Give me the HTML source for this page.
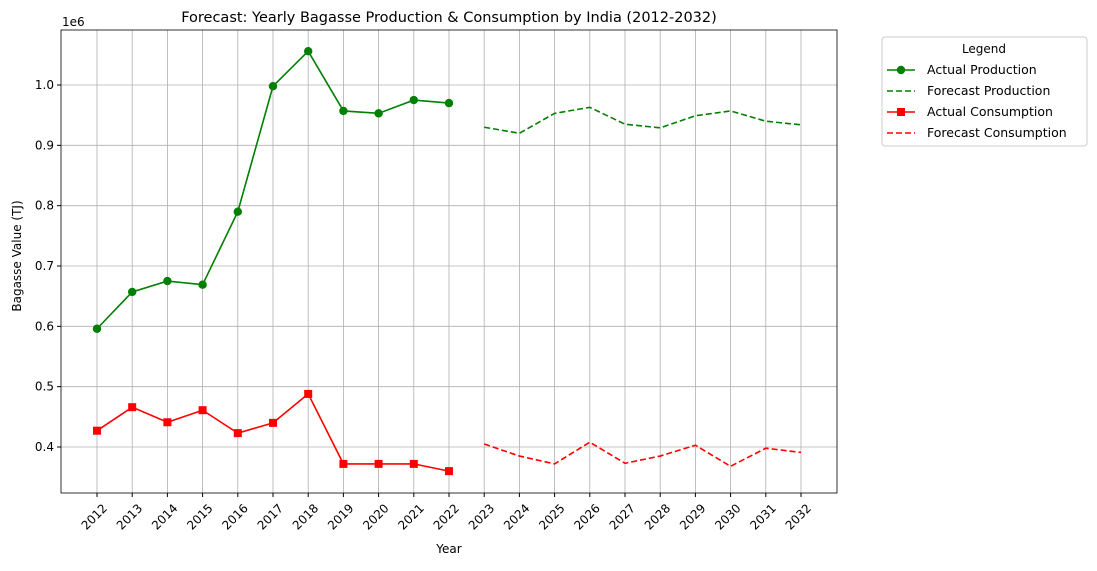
<!DOCTYPE html>
<html><head><meta charset="utf-8"><style>
body{margin:0;background:#fff;font-family:"Liberation Sans","DejaVu Sans",sans-serif;}
svg text{font-family:"DejaVu Sans","Liberation Sans",sans-serif;}
</style></head><body>
<svg id="chart" width="1097" height="566" xmlns="http://www.w3.org/2000/svg"></svg>
<script>
const years=[2012,2013,2014,2015,2016,2017,2018,2019,2020,2021,2022,2023,2024,2025,2026,2027,2028,2029,2030,2031,2032];
const actualYears=[2012,2013,2014,2015,2016,2017,2018,2019,2020,2021,2022];
const forecastYears=[2023,2024,2025,2026,2027,2028,2029,2030,2031,2032];
const actualProduction=[0.596,0.657,0.675,0.669,0.790,0.998,1.056,0.957,0.953,0.975,0.970];
const forecastProduction=[0.930,0.920,0.953,0.963,0.935,0.929,0.949,0.957,0.940,0.934];
const actualConsumption=[0.427,0.466,0.441,0.461,0.423,0.440,0.488,0.372,0.372,0.372,0.360];
const forecastConsumption=[0.405,0.385,0.372,0.408,0.373,0.385,0.403,0.368,0.398,0.391];
const yTicks=[0.4,0.5,0.6,0.7,0.8,0.9,1.0];

const svg=document.getElementById('chart');
const NS='http://www.w3.org/2000/svg';
const L=61,R=837,T=30,B=493;
const x=y=>97+(y-2012)*(801-97)/20;
const yv=v=>447-(v-0.4)*603.33;
function mk(tag,attrs,parent){const e=document.createElementNS(NS,tag);for(const k in attrs)e.setAttribute(k,attrs[k]);(parent||svg).appendChild(e);return e;}
function txt(s,attrs){const e=mk('text',attrs);e.textContent=s;return e;}

years.forEach(yr=>{const g=mk('line',{x1:x(yr),x2:x(yr),y1:T,y2:B,stroke:'#b0b0b0','stroke-width':0.8});

});
yTicks.forEach(v=>{const g=mk('line',{x1:L,x2:R,y1:yv(v),y2:yv(v),stroke:'#b0b0b0','stroke-width':0.8});

});
const fr=mk('rect',{x:L,y:T,width:R-L,height:B-T,fill:'none',stroke:'#000','stroke-width':0.8});


years.forEach(yr=>{mk('line',{x1:x(yr),x2:x(yr),y1:B,y2:B+4,stroke:'#000'});
const t=txt(String(yr),{x:0,y:0,'font-size':12,'text-anchor':'end',transform:`translate(${x(yr)+5},${B+10}) rotate(-45)`,dy:'0.7em'});

});
yTicks.forEach(v=>{mk('line',{x1:L-4,x2:L,y1:yv(v),y2:yv(v),stroke:'#000'});
const t=txt(v.toFixed(1),{x:L-7,y:yv(v)+4,'font-size':12,'text-anchor':'end'});

});
const off=txt('1e6',{x:62,y:26,'font-size':12});


const xt=txt('Year',{x:449,y:553,'font-size':12,'text-anchor':'middle'});


const yt=txt('Bagasse Value (TJ)',{x:0,y:0,'font-size':12,'text-anchor':'middle',transform:'translate(21,256) rotate(-90)'});


const tt=txt('Forecast: Yearly Bagasse Production & Consumption by India (2012-2032)',{x:449,y:22,'font-size':14.5,'text-anchor':'middle'});



function series(xs,vs,color,dash,marker,name){
  const p=mk('polyline',{points:xs.map((yr,i)=>x(yr)+','+yv(vs[i])).join(' '),fill:'none',stroke:color,'stroke-width':1.6,'stroke-dasharray':dash||'none'});
  
  
  xs.forEach((yr,i)=>{
    let m;
    if(marker==='o')m=mk('circle',{cx:x(yr),cy:yv(vs[i]),r:4.2,fill:color});
    else if(marker==='s')m=mk('rect',{x:x(yr)-4,y:yv(vs[i])-4,width:8,height:8,fill:color});
    else return;
    
    
  });
}
series(actualYears,actualProduction,'#008000',null,'o','actual-production');
series(forecastYears,forecastProduction,'#008000','6,3',null,'forecast-production');
series(actualYears,actualConsumption,'#ff0000',null,'s','actual-consumption');
series(forecastYears,forecastConsumption,'#ff0000','6,3',null,'forecast-consumption');

const lg=mk('g',{});


mk('rect',{x:882,y:37,width:205,height:109,rx:3,fill:'#fff',stroke:'#ccc'},lg);
const lt=txt('Legend',{x:984,y:53,'font-size':12,'text-anchor':'middle'});


const items=[['Actual Production','#008000',null,'o'],['Forecast Production','#008000','6,3',null],['Actual Consumption','#ff0000',null,'s'],['Forecast Consumption','#ff0000','6,3',null]];
items.forEach((it,i)=>{const yy=70+i*21;
mk('line',{x1:887,x2:915,y1:yy,y2:yy,stroke:it[1],'stroke-width':1.6,'stroke-dasharray':it[2]||'none'});
if(it[3]==='o')mk('circle',{cx:901,cy:yy,r:4.2,fill:it[1]});
if(it[3]==='s')mk('rect',{x:897,y:yy-4,width:8,height:8,fill:it[1]});
const t=txt(it[0],{x:927,y:yy+4,'font-size':12.5});

});
</script>
</body></html>
